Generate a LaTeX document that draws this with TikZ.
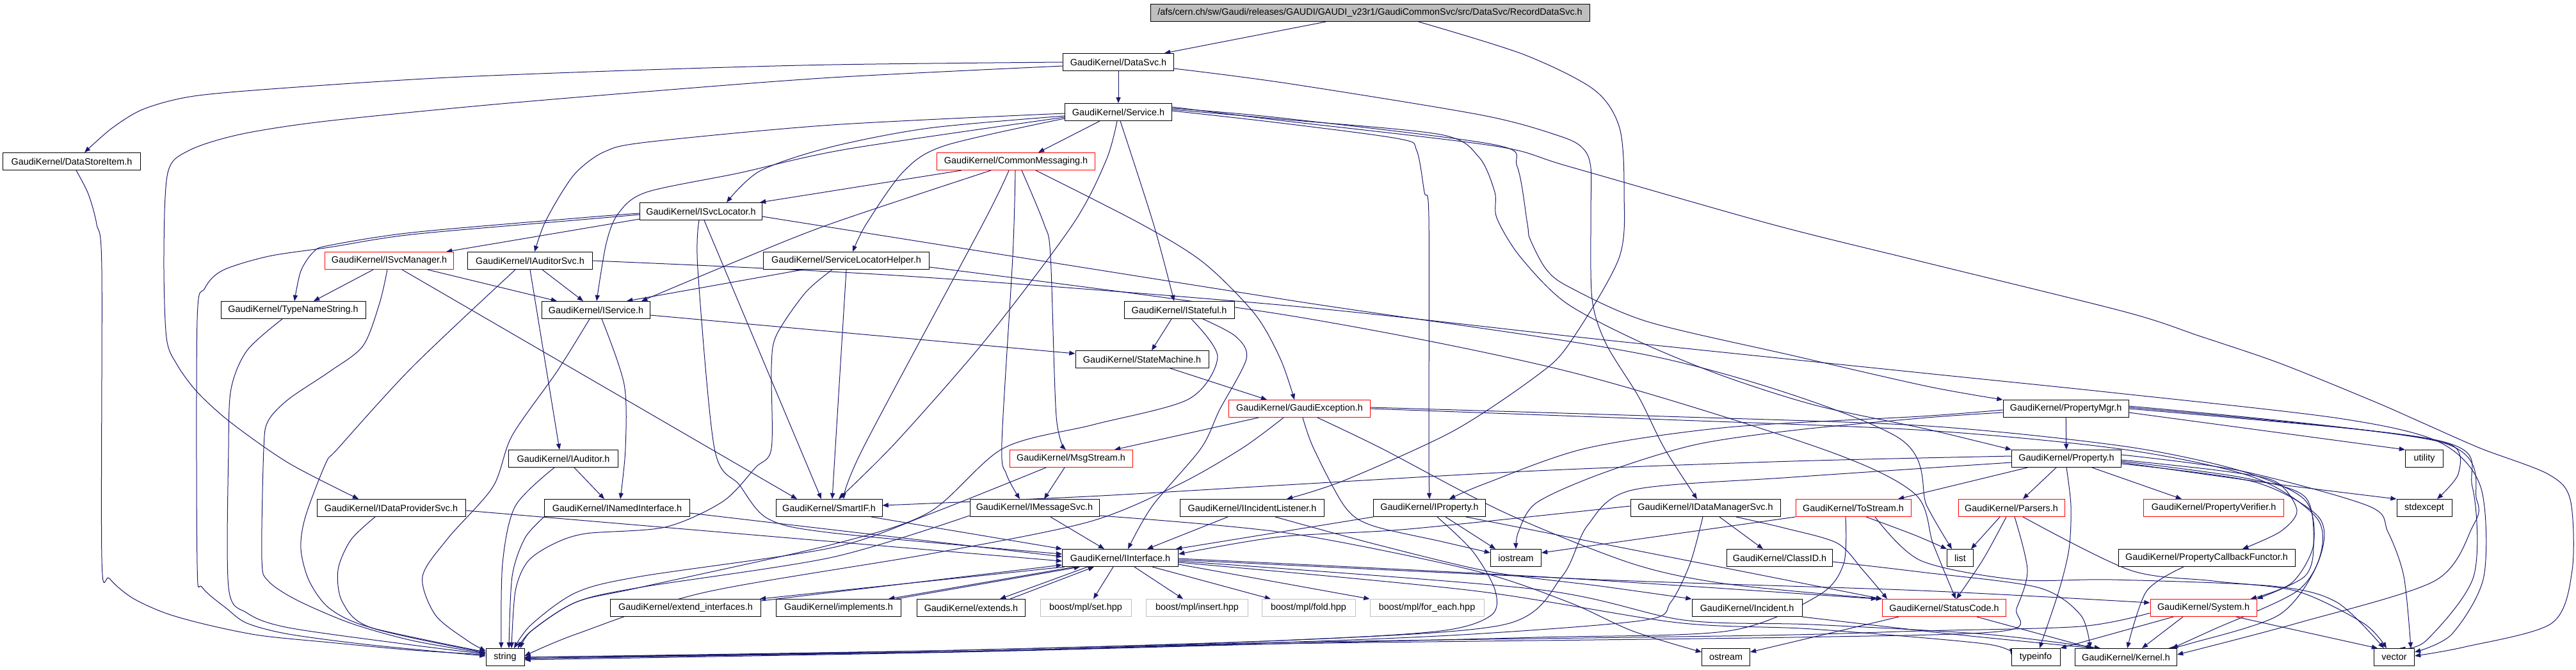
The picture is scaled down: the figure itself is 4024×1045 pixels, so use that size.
\documentclass[tikz,border=0pt]{standalone}
\usepackage{fontspec}
\setmainfont{Liberation Sans}
\usetikzlibrary{arrows.meta}
\definecolor{edgec}{HTML}{191970}
\definecolor{grayfill}{HTML}{BFBFBF}
\pgfdeclarelayer{bg}
\pgfsetlayers{bg,main}
\newcommand\nd[5][nb]{\node[#1,minimum width=#4*0.5pt] (#2) at (#3) {#5};}
\newcommand\Pl[1]{\draw[e] plot[smooth,tension=0.5] coordinates {#1};}
\begin{document}
\begin{tikzpicture}[x=0.5pt,y=-0.5pt,
  nb/.style={draw=black,fill=white,line width=0.5pt,minimum height=13.5pt,inner sep=0pt,font=\fontsize{7.2}{8}\selectfont},
  nr/.style={nb,draw=red},
  ng/.style={nb,draw=grayfill},
  nroot/.style={nb,fill=grayfill},
  e/.style={draw=edgec,line width=0.5pt,-{Triangle[length=4.6pt,width=3.6pt]}}]
\useasboundingbox (0,0) rectangle (4024,1045);
\nd[nroot]{root}{2140,20}{686}{/afs/cern.ch/sw/Gaudi/releases/GAUDI/GAUDI\_v23r1/GaudiCommonSvc/src/DataSvc/RecordDataSvc.h}
\nd{datasvc}{1747,97}{173}{GaudiKernel/DataSvc.h}
\nd{service}{1747,175}{167}{GaudiKernel/Service.h}
\nd{dsitem}{112,252}{215}{GaudiKernel/DataStoreItem.h}
\nd[nr]{commsg}{1587,252}{247}{GaudiKernel/CommonMessaging.h}
\nd{isvcloc}{1095,330}{191}{GaudiKernel/ISvcLocator.h}
\nd[nr]{isvcmgr}{608,407}{201}{GaudiKernel/ISvcManager.h}
\nd{iauditorsvc}{828,407}{195}{GaudiKernel/IAuditorSvc.h}
\nd{slhelper}{1322,407}{259}{GaudiKernel/ServiceLocatorHelper.h}
\nd{typename}{458,484}{226}{GaudiKernel/TypeNameString.h}
\nd{iservice}{931,484}{169}{GaudiKernel/IService.h}
\nd{istateful}{1842,484}{172}{GaudiKernel/IStateful.h}
\nd{statemachine}{1784,561}{208}{GaudiKernel/StateMachine.h}
\nd[nr]{gexc}{2030,638}{221}{GaudiKernel/GaudiException.h}
\nd{propmgr}{3227,638}{196}{GaudiKernel/PropertyMgr.h}
\nd{iauditor}{880,716}{171}{GaudiKernel/IAuditor.h}
\nd[nr]{msgstream}{1673,716}{192}{GaudiKernel/MsgStream.h}
\nd{property}{3228,716}{171}{GaudiKernel/Property.h}
\nd{utility}{3787,716}{59}{utility}
\nd{idataprov}{611,793}{232}{GaudiKernel/IDataProviderSvc.h}
\nd{inamed}{964,793}{227}{GaudiKernel/INamedInterface.h}
\nd{smartif}{1295,793}{166}{GaudiKernel/SmartIF.h}
\nd{imsgsvc}{1616,793}{202}{GaudiKernel/IMessageSvc.h}
\nd{iincident}{1956,793}{225}{GaudiKernel/IIncidentListener.h}
\nd{iproperty}{2233,793}{175}{GaudiKernel/IProperty.h}
\nd{idatamgr}{2664,793}{234}{GaudiKernel/IDataManagerSvc.h}
\nd[nr]{tostream}{2895,793}{180}{GaudiKernel/ToStream.h}
\nd[nr]{parsers}{3142,793}{166}{GaudiKernel/Parsers.h}
\nd[nr]{propverif}{3458,793}{219}{GaudiKernel/PropertyVerifier.h}
\nd{stdexcept}{3787,793}{86}{stdexcept}
\nd{iinterface}{1750,871}{181}{GaudiKernel/IInterface.h}
\nd{iostream}{2368,871}{79}{iostream}
\nd{classid}{2780,871}{165}{GaudiKernel/ClassID.h}
\nd{list}{3062,871}{41}{list}
\nd{propcb}{3447,871}{276}{GaudiKernel/PropertyCallbackFunctor.h}
\nd{extif}{1071,949}{235}{GaudiKernel/extend\_interfaces.h}
\nd{implements}{1310,949}{195}{GaudiKernel/implements.h}
\nd{extends}{1517,949}{169}{GaudiKernel/extends.h}
\nd[ng]{mplset}{1696,949}{142}{boost/mpl/set.hpp}
\nd[ng]{mplinsert}{1870,949}{159}{boost/mpl/insert.hpp}
\nd[ng]{mplfold}{2044,949}{146}{boost/mpl/fold.hpp}
\nd[ng]{mplforeach}{2229,949}{178}{boost/mpl/for\_each.hpp}
\nd{incident}{2729,949}{172}{GaudiKernel/Incident.h}
\nd[nr]{statuscode}{3037,949}{193}{GaudiKernel/StatusCode.h}
\nd[nr]{system}{3442,949}{166}{GaudiKernel/System.h}
\nd{string}{789,1026}{60}{string}
\nd{ostream}{2696,1026}{75}{ostream}
\nd{typeinfo}{3180,1026}{76}{typeinfo}
\nd{kernel}{3321,1026}{159}{GaudiKernel/Kernel.h}
\nd{vector}{3740,1026}{63}{vector}
\begin{pgfonlayer}{bg}
% root
\draw[e] ([xshift=-34.5pt]root.south) -- ([xshift=-7.5pt]datasvc.north east);
\Pl{([xshift=38pt]root.south) (2380,85) (2490,140) (2530,200) (2537,300) (2529,403) (2451,537) (2400,587) (2270,673) (2100,750) ([xshift=27pt]iincident.north)}
% DataSvc
\draw[e] (datasvc) -- (service);
\Pl{(datasvc.west) (1300,101) (1010,109) (700,121) (450,137) (303,150) (225,170) (175,200) ([xshift=10pt]dsitem.north)}
\Pl{([yshift=-3pt]datasvc.west) (1300,121) (1010,143) (750,165) (502,190) (374,210) (295,235) (262,270) (256,400) (260,527) (277,570) (309,613) (361,660) (451,723) ([xshift=-25.5pt]idataprov.north)}
\Pl{([yshift=-5pt]datasvc.east) (2010,130) (2316,180) (2438,213) (2473,232) (2485,262) (2485,340) (2487,467) (2509,537) (2560,620) (2600,700) ([xshift=-6.5pt]idatamgr.north)}
\Pl{([xshift=3.5pt]dsitem.south) (138,303) (151,350) (159,420) (159,872) (171,903) (206,933) (258,957) (322,975) (406,992) (515,1003) (644,1015) ([yshift=2pt]string.west)}
% Service
\draw[e] ([xshift=-14.5pt]service.south) -- ([xshift=17.5pt]commsg.north);
\Pl{([yshift=-3pt]service.west) (1451,200) (1296,230) (1187,267) ([xshift=20pt]isvcloc.north)}
\Pl{([yshift=-1pt]service.west) (1300,195) (1010,222) (944,237) (902,267) (876,303) (850,350) ([xshift=3.5pt]iauditorsvc.north)}
\Pl{([yshift=-4pt]service.west) (1322,233) (1155,270) (1010,300) (966,333) (947,380) ([xshift=0.5pt]iservice.north)}
\Pl{([yshift=-5pt]service.west) (1477,227) (1412,267) (1353,350) ([xshift=5pt]slhelper.north)}
\Pl{([xshift=1.5pt]service.south) (1802,350) ([xshift=-4pt]istateful.north)}
\Pl{([xshift=-1pt]service.south) (1728,250) (1676,350) (1540,530) (1400,690) ([xshift=7.5pt]smartif.north)}
\Pl{([yshift=1pt]service.east) (2000,192) (2187,217) (2213,235) (2225,300) (2232,340) (2232,700) (iproperty.north)}
\Pl{([yshift=2pt]service.east) (2000,186) (2250,210) (2310,245) (2335,300) (2338,340) (2374,400) (2445,472) (2560,533) (2692,587) (2837,633) (3010,670) (property.north west)}
\Pl{([yshift=3pt]service.east) (2000,184) (2335,226) (2370,260) (2386,350) (2390,373) (2415,420) (2451,448) (2573,502) (2800,555) (3010,603) (propmgr.north west)}
\Pl{([yshift=4pt]service.east) (2000,188) (2335,228) (2451,260) (2767,350) (3000,408) (3320,487) (3437,525) (3561,567) (3709,627) (3784,660) (3875,700) (3980,740) (4015,780) (4018,890) (3986,973) (3850,1010) ([yshift=1pt]vector.east)}
% CommonMessaging
\draw[e] ([xshift=-42.5pt]commsg.south) -- ([xshift=46pt]isvcloc.north);
\Pl{([xshift=-19.5pt]commsg.south) (1296,350) (1150,408) ([xshift=35.5pt]iservice.north)}
\Pl{([xshift=-5.5pt]commsg.south) (1535,350) (1348,700) ([xshift=11.5pt]smartif.north)}
\Pl{([xshift=-0.5pt]commsg.south) (1582,400) (1565,690) (1572,740) ([xshift=-11.5pt]imsgsvc.north)}
\Pl{([xshift=4.5pt]commsg.south) (1631,350) (1641,400) (1650,650) ([xshift=-4pt]msgstream.north)}
\Pl{([xshift=15.5pt]commsg.south) (1783,350) (1880,410) (1960,490) (2000,560) ([xshift=-4pt]gexc.north)}
% ISvcLocator
\draw[e] ([yshift=-6pt]isvcloc.west) -- ([xshift=-6pt]isvcmgr.north east);
\Pl{([yshift=-1.5pt]isvcloc.west) (908,340) (644,363) (515,383) (490,393) (470,423) ([xshift=1pt]typename.north)}
\Pl{([yshift=-2.5pt]isvcloc.west) (908,343) (644,366) (515,386) (420,400) (348,422) (320,450) (308,500) (308,880) (316,917) (354,950) (386,973) (451,990) (580,1007) ([yshift=1pt]string.west)}
\draw[e] ([xshift=2.5pt]isvcloc.south) -- ([xshift=-6pt]smartif.north);
\Pl{([xshift=-1.5pt]isvcloc.south) (1090,420) (1116,700) (1155,757) (1200,810) (1300,832) ([yshift=3pt]iinterface.west)}
\Pl{([yshift=-4pt]isvcloc.east) (2010,468) (2600,560) (2960,680) (3010,790) ([xshift=-6.5pt]list.north)}
% ISvcManager
\draw[e] ([xshift=30pt]isvcmgr.south) -- ([xshift=-30.5pt]iservice.north);
\draw[e] ([xshift=-12.5pt]isvcmgr.south) -- ([xshift=16pt]typename.north);
\draw[e] ([xshift=10pt]isvcmgr.south) -- ([xshift=-25pt]smartif.north);
\Pl{([xshift=-1.5pt]isvcmgr.south) (593,473) (567,540) (515,580) (451,623) (419,657) (412,700) (409,873) (419,907) (464,937) (548,973) (644,1000) ([yshift=3pt]string.west)}
% IAuditorSvc
\draw[e] ([xshift=0pt]iauditorsvc.south) -- ([xshift=-3pt]iauditor.north);
\draw[e] ([xshift=9.5pt]iauditorsvc.south) -- ([xshift=-10pt]iservice.north);
\Pl{([xshift=-11.5pt]iauditorsvc.south) (644,573) (528,700) (509,723) (477,807) (470,857) (483,907) (515,950) (580,980) ([yshift=4pt]string.west)}
\Pl{(iauditorsvc.east) (1400,430) (2010,477) (2500,530) (3010,583) (3300,613) (3653,653) (3810,690) (3875,760) (3880,900) (3830,990) ([yshift=4pt]vector.east)}
% ServiceLocatorHelper
\draw[e] ([xshift=-34pt]slhelper.south) -- ([xshift=24pt]iservice.north);
\draw[e] (slhelper.south) -- ([xshift=2.5pt]smartif.north);
\Pl{([xshift=-11pt]slhelper.south) (1258,457) (1213,523) (1205,573) (1205,700) (1180,730) (1129,783) (1039,823) (915,833) (863,850) (824,877) (805,923) ([xshift=5pt]string.north)}
\Pl{([yshift=-5pt]slhelper.east) (2010,492) (2450,580) (2844,700) (2990,770) (3020,850) ([xshift=9pt]statuscode.north)}
% IService
\Pl{([xshift=4.5pt]iservice.south) (975,600) (977,700) ([xshift=2.5pt]inamed.north)}
\draw[e] ([yshift=-4pt]iservice.east) -- ([yshift=4.5pt]statemachine.west);
\Pl{([xshift=-5pt]iservice.south) (870,580) (800,680) (770,760) (700,840) (660,900) (680,960) (730,1000) ([yshift=5pt]string.west)}
% IStateful
\draw[e] ([xshift=-6pt]istateful.south) -- ([xshift=7.5pt]statemachine.north);
\Pl{([xshift=18.5pt]istateful.south) (1930,525) (1947,560) (1905,640) (1876,700) (1800,790) ([xshift=6pt]iinterface.north)}
\Pl{([xshift=9.5pt]istateful.south) (1902,557) (1857,623) (1708,663) (1567,700) (1451,800) (1300,850) (1000,917) (900,940) (830,985) ([xshift=10pt]string.north)}
% StateMachine, GaudiException
\draw[e] ([xshift=22pt]statemachine.south) -- ([xshift=-25.5pt]gexc.north);
\draw[e] ([xshift=-32pt]gexc.south) -- ([xshift=34pt]msgstream.north);
\Pl{([xshift=-12.5pt]gexc.south) (1940,700) (1840,757) (1700,815) (1451,865) (1100,925) (900,990) ([yshift=1pt]string.east)}
\Pl{([xshift=2.5pt]gexc.south) (2052,700) (2100,790) (2142,820) (2250,845) ([yshift=4pt]iostream.west)}
\Pl{([xshift=14pt]gexc.south) (2158,700) (2350,800) (2550,880) (2700,912) (statuscode.north west)}
\Pl{([yshift=1pt]gexc.east) (2600,650) (3010,665) (3320,697) (3500,735) (3600,780) (3614,850) (3580,910) ([xshift=-5pt]system.north east)}
\Pl{(gexc.east) (2600,655) (3010,672) (3320,702) (3520,745) (3620,810) (3620,880) (3560,960) (3420,1005) ([xshift=33pt]kernel.north)}
% PropertyMgr
\draw[e] (propmgr) -- (property);
\Pl{([yshift=-1pt]propmgr.west) (3000,650) (2700,667) (2477,700) (2320,755) ([xshift=15.5pt]iproperty.north)}
\Pl{([yshift=-3pt]propmgr.west) (3010,652) (2800,672) (2645,695) (2500,740) (2400,785) (2372,830) (iostream.north)}
\draw[e] ([yshift=-3pt]propmgr.east) -- (utility.north west);
\Pl{(propmgr.east) (3700,672) (3830,695) (3840,740) ([xshift=10pt]stdexcept.north)}
\Pl{([yshift=1pt]propmgr.east) (3810,688) (3862,760) (3864,900) (3790,1000) ([xshift=4pt]vector.north)}
\Pl{([yshift=2pt]propmgr.east) (3812,690) (3869,781) (3862,823) (3803,907) (3588,973) ([yshift=2pt]kernel.east)}
% Property
\draw[e] ([xshift=-8pt]property.south) -- ([xshift=9pt]parsers.north);
\draw[e] ([xshift=20pt]property.south) -- ([xshift=-25pt]propverif.north);
\Pl{(property.south) (3235,790) (3232,857) (3216,923) ([xshift=3pt]typeinfo.north)}
\draw[e] ([xshift=-30.5pt]property.south) -- ([xshift=35pt]tostream.north);
\Pl{([yshift=-3pt]property.east) (3550,755) (stdexcept.north west)}
\Pl{([yshift=-1pt]property.east) (3470,735) (3555,752) (3588,797) (3562,830) ([xshift=28pt]propcb.north)}
\Pl{([yshift=-2pt]property.east) (3500,745) (3600,775) (3614,850) (3600,900) (system.north east)}
\Pl{([yshift=-4pt]property.east) (3520,752) (3620,805) (3627,860) (3588,923) (3457,983) ([xshift=36pt]kernel.north)}
\Pl{([yshift=3pt]property.east) (3500,735) (3700,790) (3730,830) (3755,900) ([xshift=13pt]vector.north)}
\Pl{([yshift=-3pt]property.west) (2800,745) (2550,765) (2480,820) (2440,900) (2350,975) (2000,1000) (1500,1015) ([yshift=-1pt]string.east)}
\Pl{([yshift=2pt]property.west) (2800,720) (2400,735) (2010,757) (1700,775) ([yshift=2pt]smartif.east)}
% IProperty
\draw[e] (iproperty.south west) -- ([xshift=-2pt]iinterface.north east);
\draw[e] ([xshift=12.5pt]iproperty.south) -- ([xshift=4pt]iostream.north west);
\Pl{([xshift=6pt]iproperty.south) (2300,860) (2335,920) (2330,960) (2250,985) (2000,1000) (1500,1015) (string.east)}
\draw[e] ([xshift=28.5pt]iproperty.south) -- (statuscode.north west);
% IDataManagerSvc
\Pl{([yshift=1.5pt]idatamgr.west) (2200,826) (2000,838) ([yshift=3pt]iinterface.east)}
\draw[e] ([xshift=11pt]idatamgr.south) -- ([xshift=-13pt]classid.north);
\Pl{([xshift=-2pt]idatamgr.south) (2640,880) (2610,940) (2570,968) (2300,990) (2000,1003) (1500,1017) ([yshift=-1pt]string.east)}
\Pl{([xshift=24pt]idatamgr.south) (2790,825) (2870,848) (2910,890) ([xshift=4pt]statuscode.north west)}
% ToStream
\draw[e] (tostream.south west) -- ([yshift=-3pt]iostream.north east);
\Pl{([xshift=10pt]tostream.south) (2990,835) (list.north west)}
\Pl{([xshift=17pt]tostream.south) (3000,875) (3150,905) (3300,905) (3550,915) (3650,940) ([xshift=-8pt]vector.north)}
\Pl{([xshift=-6pt]tostream.south) (2880,880) (2840,930) (2700,985) (2400,995) (2000,1005) (1500,1018) ([yshift=-2pt]string.east)}
% Parsers
\draw[e] ([xshift=-9pt]parsers.south) -- ([xshift=-2pt]list.north east);
\Pl{([xshift=-4pt]parsers.south) (3098,873) ([xshift=9.5pt]statuscode.north)}
\Pl{([xshift=2.5pt]parsers.south) (3167,890) (3150,950) (3130,985) (2800,995) (2000,1005) (1500,1017) ([yshift=-1pt]string.east)}
\Pl{([xshift=9pt]parsers.south) (3327,890) (3457,907) (3588,923) (3692,973) ([xshift=-6pt]vector.north)}
\Pl{([xshift=-18pt]propcb.south) (3353,923) ([xshift=1pt]kernel.north)}
% IInterface
\draw[e] ([xshift=2pt]iinterface.south west) -- ([xshift=-1pt]extif.north east);
\draw[e] ([yshift=-1.5pt]extif.north east) -- ([yshift=1.5pt]iinterface.south west);
\draw[e] ([xshift=10pt]iinterface.south west) -- ([xshift=-10pt]implements.north east);
\draw[e] ([xshift=-4pt]implements.north east) -- ([xshift=14pt]iinterface.south west);
\draw[e] ([xshift=20pt]iinterface.south west) -- ([xshift=-20pt]extends.north east);
\draw[e] ([xshift=-12pt]extends.north east) -- ([xshift=25pt]iinterface.south west);
\draw[e] ([xshift=-5.5pt]iinterface.south) -- ([xshift=6pt]mplset.north);
\draw[e] ([xshift=11pt]iinterface.south) -- ([xshift=-11pt]mplinsert.north);
\draw[e] ([xshift=25pt]iinterface.south) -- ([xshift=-29.5pt]mplfold.north);
\draw[e] ([yshift=-5pt]iinterface.east) -- (mplforeach.north west);
\Pl{([yshift=-0.5pt]iinterface.east) (2400,900) ([xshift=-4pt]statuscode.north west)}
\Pl{([yshift=-1.5pt]iinterface.east) (2500,905) (3000,922) ([yshift=4pt]system.west)}
\Pl{([yshift=-2.5pt]iinterface.east) (2400,920) (2630,968) (2830,975) (3100,990) ([xshift=-20pt]kernel.north)}
\Pl{([yshift=-3.5pt]iinterface.east) (2300,922) (2620,972) (2830,982) (3100,1005) ([yshift=2pt]typeinfo.west)}
% IIncidentListener, IMessageSvc, MsgStream, SmartIF
\draw[e] ([xshift=-19pt]iincident.south) -- ([xshift=21pt]iinterface.north);
\Pl{([xshift=18pt]iincident.south) (2150,850) (2330,893) (2500,915) (incident.north west)}
\draw[e] ([xshift=12.5pt]imsgsvc.south) -- ([xshift=-12.5pt]iinterface.north);
\Pl{([yshift=-6pt]imsgsvc.west) (1300,870) (1000,917) (900,940) (830,985) ([xshift=12pt]string.north)}
\Pl{([yshift=-6pt]imsgsvc.east) (2010,832) (2300,890) (2450,940) (2550,985) ([yshift=4pt]ostream.west)}
\draw[e] ([xshift=-5pt]msgstream.south) -- ([xshift=7.5pt]imsgsvc.north);
\Pl{([xshift=-19.5pt]msgstream.south) (1451,803) (1300,855) (1000,900) (900,925) (830,975) ([xshift=7pt]string.north)}
\draw[e] ([xshift=33pt]smartif.south) -- (iinterface.north west);
% INamedInterface, IDataProviderSvc, IAuditor, TypeNameString
\draw[e] ([yshift=-4pt]inamed.east) -- ([yshift=1pt]iinterface.west);
\Pl{(inamed.south west) (820,840) (800,900) ([xshift=3pt]string.north)}
\draw[e] ([yshift=-2pt]idataprov.east) -- ([yshift=-2.5pt]iinterface.west);
\Pl{([xshift=-12.5pt]idataprov.south) (548,843) (528,890) (535,940) (580,980) ([yshift=3.5pt]string.west)}
\draw[e] ([xshift=8.5pt]iauditor.south) -- ([xshift=-10pt]inamed.north);
\Pl{([xshift=-7pt]iauditor.south) (805,790) (785,880) ([xshift=-3pt]string.north)}
\Pl{([xshift=-8.5pt]typename.south) (386,547) (361,607) (357,700) (357,917) (386,957) (451,980) (644,1007) ([yshift=2.5pt]string.west)}
% leaves
\Pl{(incident.south east) (3050,990) ([xshift=-25pt]kernel.north)}
\Pl{([yshift=-3pt]classid.east) (3000,893) (3183,917) (3250,960) ([xshift=-28pt]kernel.north)}
\draw[e] ([xshift=-35.5pt]statuscode.south) -- ([yshift=4pt]ostream.east);
\draw[e] ([xshift=25.5pt]statuscode.south) -- ([xshift=-26.5pt]kernel.north);
\draw[e] ([xshift=-16pt]system.south) -- ([xshift=12.5pt]kernel.north);
\draw[e] ([xshift=-23.5pt]system.south) -- (typeinfo.north east);
\draw[e] ([xshift=25.5pt]system.south) -- ([xshift=-13pt]vector.north);
\Pl{([yshift=-4pt]system.west) (3250,978) (3000,985) (2750,992) (2000,1003) (1500,1017) (string.east)}
\end{pgfonlayer}
\end{tikzpicture}
\end{document}
